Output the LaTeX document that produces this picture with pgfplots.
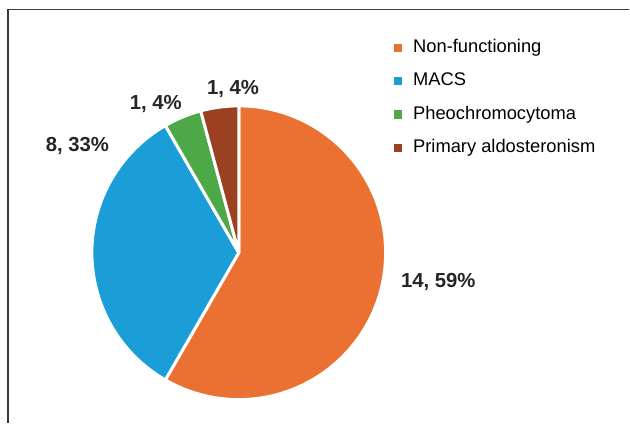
\documentclass[border=0pt]{standalone}
\usepackage{pgfplots}
\pgfplotsset{compat=1.18}
\usepackage{pgfplotstable}
\usepackage{fontspec}
\setmainfont{Liberation Sans}
\definecolor{cOrange}{HTML}{EA7131}
\definecolor{cBlue}{HTML}{1B9ED8}
\definecolor{cGreen}{HTML}{4DA847}
\definecolor{cBrown}{HTML}{9B4122}
\definecolor{cFrame}{HTML}{3A3A3A}
\pgfplotstableread[col sep=comma]{
name,value
Non-functioning,14
MACS,8
Pheochromocytoma,1
Primary aldosteronism,1
}\piedata
\begin{document}
\begin{tikzpicture}
\pgfplotstablegetelem{0}{value}\of\piedata \pgfmathsetmacro\vA{\pgfplotsretval}
\pgfplotstablegetelem{1}{value}\of\piedata \pgfmathsetmacro\vB{\pgfplotsretval}
\pgfplotstablegetelem{2}{value}\of\piedata \pgfmathsetmacro\vC{\pgfplotsretval}
\pgfplotstablegetelem{3}{value}\of\piedata \pgfmathsetmacro\vD{\pgfplotsretval}
\pgfmathsetmacro\tot{\vA+\vB+\vC+\vD}
\pgfmathsetmacro\aA{90}
\pgfmathsetmacro\aB{\aA-360*\vA/\tot}
\pgfmathsetmacro\aC{\aB-360*\vB/\tot}
\pgfmathsetmacro\aD{\aC-360*\vC/\tot}
\pgfmathsetmacro\aE{\aD-360*\vD/\tot}
\def\R{147bp}
\begin{axis}[
  scale only axis, width=630bp, height=423bp,
  xmin=0, xmax=630, ymin=0, ymax=423,
  hide axis, clip=false,
  legend cell align=left,
  legend style={draw=none, fill=none, at={(axis cs:391,386)}, anchor=north west,
    font=\fontsize{18.4}{22}\selectfont, row sep=16.5bp, column sep=11.5bp,
    nodes={inner xsep=0pt, inner ysep=0pt, text height=13.2bp, text depth=3.8bp}},
]
\addlegendimage{legend image code/.code={\fill[cOrange] (0bp,-3.4bp) rectangle (7.5bp,3.9bp);}}
\addlegendentry{Non-functioning}
\addlegendimage{legend image code/.code={\fill[cBlue] (0bp,-3.4bp) rectangle (7.5bp,3.9bp);}}
\addlegendentry{MACS}
\addlegendimage{legend image code/.code={\fill[cGreen] (0bp,-3.4bp) rectangle (7.5bp,3.9bp);}}
\addlegendentry{Pheochromocytoma}
\addlegendimage{legend image code/.code={\fill[cBrown] (0bp,-3.4bp) rectangle (7.5bp,3.9bp);}}
\addlegendentry{Primary aldosteronism}

% frame
\draw[cFrame, line width=1.3bp] (axis cs:8,0) -- (axis cs:8,413.5) -- (axis cs:630,413.5);

% pie slices
\filldraw[fill=cOrange, draw=white, line width=3bp, line join=round] (axis cs:239,170) -- ++(\aA:\R) arc[start angle=\aA, end angle=\aB, radius=\R] -- cycle;
\filldraw[fill=cBlue, draw=white, line width=3bp, line join=round] (axis cs:239,170) -- ++(\aB:\R) arc[start angle=\aB, end angle=\aC, radius=\R] -- cycle;
\filldraw[fill=cGreen, draw=white, line width=3bp, line join=round] (axis cs:239,170) -- ++(\aC:\R) arc[start angle=\aC, end angle=\aD, radius=\R] -- cycle;
\filldraw[fill=cBrown, draw=white, line width=3bp, line join=round] (axis cs:239,170) -- ++(\aD:\R) arc[start angle=\aD, end angle=\aE, radius=\R] -- cycle;

% data labels
\begin{scope}[every node/.style={font=\fontsize{20.4}{24}\bfseries\selectfont, text=black!85, inner sep=0pt, anchor=base}]
\node at (axis cs:438.7,135.7) {14, 59\%};
\node at (axis cs:77.5,271.3) {8, 33\%};
\node at (axis cs:156,313) {1, 4\%};
\node at (axis cs:233.3,328.7) {1, 4\%};
\end{scope}
\path (axis cs:0,0) rectangle (axis cs:630,423);
\end{axis}
\end{tikzpicture}
\end{document}
